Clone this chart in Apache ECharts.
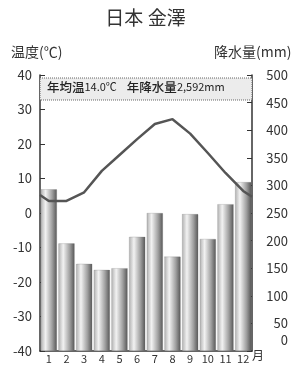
<!DOCTYPE html>
<html>
<head>
<meta charset="utf-8">
<script src="https://cdn.jsdelivr.net/npm/echarts@6/dist/echarts.min.js"></script>
<style>
  html, body { margin: 0; padding: 0; background: #fff; }
  #chart { width: 291px; height: 367px; }
</style>
</head>
<body>
<div id="chart"></div>
<script>
  // 月
  const months = ["1", "2", "3", "4", "5", "6", "7", "8", "9", "10", "11", "12"];
  // 降水量 (mm)
  const rain = [293, 195, 158, 147, 150, 207, 250, 171, 248, 203, 266, 306];
  // 気温 (℃)
  const temp = [3.5, 3.5, 6.0, 12.2, 16.8, 21.4, 25.8, 27.2, 23.0, 17.4, 11.6, 6.4];
  // 両端 (左端, 右端)
  const tempEdge = [5.2, 4.7];
  const tempTicks = [-40, -30, -20, -10, 0, 10, 20, 30, 40];
  const rainTicks = [0, 50, 100, 150, 200, 250, 300, 350, 400, 450, 500];

  const font = "'Noto Sans CJK JP', 'Noto Sans', sans-serif";
  const chart = echarts.init(document.getElementById("chart"));

  // 折れ線は値軸で両端まで伸ばす
  const lineData = [[0, tempEdge[0]]];
  temp.forEach((t, i) => lineData.push([i + 0.5, t]));
  lineData.push([12, tempEdge[1]]);

  const option = {
    animation: false,
    textStyle: { fontFamily: font },
    grid: { left: 40, right: 39, top: 75, bottom: 16 },
    graphic: [
      {
        type: "text", left: "center", top: 8,
        style: { text: "日本 金澤", font: "19px " + font, fill: "#333" }
      },
      {
        type: "text", left: 11, top: 45,
        style: { text: "温度(℃)", font: "14px " + font, fill: "#333" }
      },
      {
        type: "text", left: 214, top: 45,
        style: { text: "降水量(mm)", font: "14px " + font, fill: "#333" }
      },
      {
        type: "rect", z: 10,
        shape: { x: 40, y: 78, width: 212, height: 22 },
        style: { fill: "#ececec", stroke: "#666", lineWidth: 1, lineDash: [1, 1] }
      },
      {
        type: "text", z: 11, left: 47, top: 81,
        style: {
          text: "{a|年均温}{b|14.0℃}   {a|年降水量}{b|2,592mm}",
          rich: {
            a: { fontSize: 12.5, fontFamily: font, fill: "#222", fontWeight: 500 },
            b: { fontSize: 11, fontFamily: font, fill: "#222" }
          }
        }
      },
      {
        type: "text", left: 252, top: 349,
        style: { text: "月", font: "12px " + font, fill: "#333" }
      }
    ],
    xAxis: [
      {
        type: "category",
        data: months,
        boundaryGap: true,
        axisLine: { onZero: false, lineStyle: { color: "#333", width: 1.5 } },
        axisTick: { show: false },
        axisLabel: { color: "#333", fontSize: 11, margin: 2, interval: 0 }
      },
      {
        type: "value", min: 0, max: 12, show: false
      }
    ],
    yAxis: [
      {
        type: "value", min: -40, max: 40, interval: 10,
        position: "left",
        splitLine: { show: false },
        axisLine: { show: true, lineStyle: { color: "#333", width: 1.5 } },
        axisTick: { show: true, inside: true, length: 5, lineStyle: { color: "#333" } },
        axisLabel: {
          color: "#333", fontSize: 13, margin: 8,
          formatter: v => tempTicks.includes(v) ? String(v) : ""
        }
      },
      {
        type: "value", min: 0, max: 500, interval: 50,
        position: "right",
        splitLine: { show: false },
        axisLine: { show: true, lineStyle: { color: "#333", width: 1.5 } },
        axisTick: { show: true, inside: true, length: 5, lineStyle: { color: "#333" } },
        axisLabel: {
          color: "#333", fontSize: 13, margin: 36, align: "right",
          formatter: v => v === 0 ? "{z|0}" : (rainTicks.includes(v) ? String(v) : ""),
          rich: { z: { fontSize: 13, color: "#333", padding: [0, 0, 22, 0] } }
        }
      }
    ],
    series: [
      {
        name: "降水量",
        type: "bar",
        xAxisIndex: 0,
        yAxisIndex: 1,
        data: rain,
        barCategoryGap: "8%",
        itemStyle: {
          color: new echarts.graphic.LinearGradient(0, 0, 1, 0, [
            { offset: 0, color: "#b0b0b0" },
            { offset: 0.3, color: "#f2f2f2" },
            { offset: 0.7, color: "#a0a0a0" },
            { offset: 1, color: "#555" }
          ]),
          borderColor: "#777",
          borderWidth: 0.5,
          borderType: "dotted"
        }
      },
      {
        name: "気温",
        type: "line",
        xAxisIndex: 1,
        yAxisIndex: 0,
        data: lineData,
        symbol: "none",
        z: 5,
        lineStyle: { color: "#555", width: 2.5 }
      }
    ]
  };

  chart.setOption(option);
</script>
</body>
</html>
